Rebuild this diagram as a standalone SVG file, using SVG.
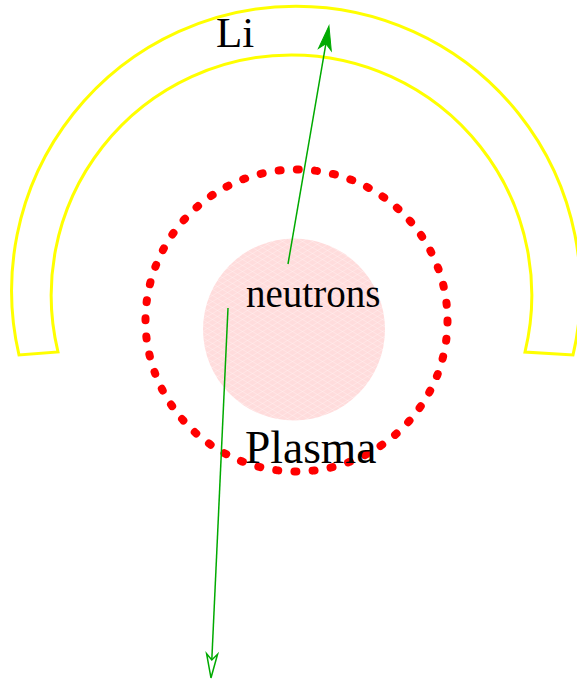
<svg xmlns="http://www.w3.org/2000/svg" width="577" height="682" viewBox="0 0 577 682">
  <style>
    .lbl { font-family: "Liberation Serif", "Times New Roman", serif; fill: #000000; }
    .ray { stroke: #00aa00; stroke-width: 1.5; fill: none; }
  </style>
  <defs>
    <pattern id="scales" width="10" height="6" patternUnits="userSpaceOnUse">
      <rect width="10" height="6" fill="#ffdcdc"/>
      <path d="M0,3 Q2.5,0 5,3 T10,3 M-5,6 Q-2.5,3 0,6 T5,6 T10,6 T15,6 M-5,0 Q-2.5,-3 0,0 T5,0 T10,0 T15,0" stroke="#ffffff" stroke-opacity="0.45" stroke-width="0.6" fill="none"/>
    </pattern>
    <marker id="headFilled" markerUnits="userSpaceOnUse" markerWidth="30" markerHeight="20" viewBox="-8 -8 30 16" refX="0" refY="0" orient="auto" overflow="visible">
      <path d="M18,0 L-6,-6.5 L0,0 L-6,6.5 Z" fill="#00aa00" stroke="#00aa00" stroke-width="1" stroke-linejoin="miter"/>
    </marker>
    <marker id="headOpen" markerUnits="userSpaceOnUse" markerWidth="30" markerHeight="20" viewBox="-8 -8 30 16" refX="0" refY="0" orient="auto" overflow="visible">
      <path d="M18,0 L-6,-5.5 L0,0 L-6,5.5 Z" fill="#ffffff" stroke="#00aa00" stroke-width="1.5" stroke-linejoin="miter"/>
    </marker>
  </defs>

  <g id="lithium-blanket">
    <path d="M19,355 A284.4,284.4 0 1 1 573,355 L525,352 A240.3,240.3 0 1 0 58,352 Z" fill="none" stroke="#ffff00" stroke-width="3" stroke-linejoin="miter"/>
    <text class="lbl" x="216" y="47" font-size="43">Li</text>
  </g>

  <g id="plasma-core">
    <circle cx="294" cy="329.5" r="91" fill="url(#scales)"/>
  </g>

  <g id="plasma-boundary">
    <circle cx="296.5" cy="320.5" r="151" fill="none" stroke="#ff0000" stroke-width="8" stroke-linecap="round" stroke-dasharray="2 16.246"/>
  </g>

  <g id="labels">
    <text class="lbl" x="246" y="307" font-size="39">neutrons</text>
    <text class="lbl" x="245" y="463" font-size="45.5">Plasma</text>
  </g>

  <g id="connectors">
    <line class="ray" x1="288" y1="264" x2="325.9" y2="43.7" marker-end="url(#headFilled)"/>
    <line class="ray" x1="228" y1="308" x2="211.8" y2="660" marker-end="url(#headOpen)"/>
  </g>
</svg>
